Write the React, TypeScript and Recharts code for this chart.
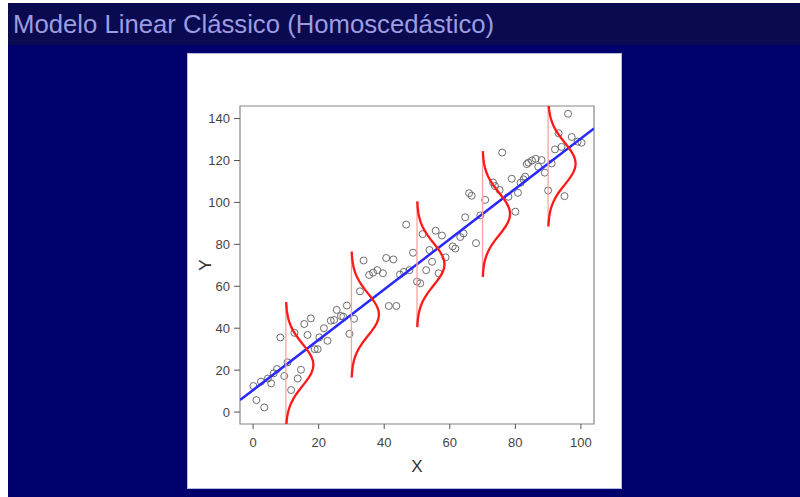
import {
  ComposedChart,
  ReferenceArea,
  Scatter,
  XAxis,
  YAxis,
} from "recharts";

const titleText = "Modelo Linear Clássico (Homoscedástico)";

// observed points
const obsX = [
  0.1, 1.0, 2.4, 3.4, 4.5, 5.5, 6.3, 7.3, 8.3, 9.5, 10.5, 11.6, 12.6, 13.6, 14.6, 15.6, 16.6, 17.6, 18.8, 19.7,
  20.2, 21.6, 22.7, 23.7, 24.7, 25.5, 26.8, 27.5, 28.6, 29.4, 30.8, 32.6, 33.7, 35.4, 36.6, 37.9, 39.6, 40.6, 41.4, 42.8,
  43.7, 44.8, 46.0, 46.7, 47.7, 48.8, 50.0, 51.0, 51.7, 52.8, 53.8, 54.6, 55.7, 56.6, 57.6, 58.7, 60.9, 61.7, 63.2, 64.2,
  64.7, 65.9, 66.7, 68.0, 69.3, 70.8, 73.2, 73.8, 75.2, 76.0, 77.9, 78.9, 80.0, 80.8, 81.6, 82.5, 83.0, 83.5, 84.0, 85.1,
  86.2, 87.0, 88.0, 89.0, 90.0, 91.1, 92.1, 93.2, 94.1, 95.0, 96.1, 97.2, 99.0, 100.2,
];
const obsY = [
  12.4, 5.7, 14.5, 2.2, 16, 13.7, 18.5, 20.5, 35.6, 17.2, 23.7, 10.5, 37.8, 16, 20.2, 42, 36.8, 44.7, 30, 30,
  35.6, 40, 34, 43.6, 43.9, 48.7, 45.8, 45.5, 50.8, 37.3, 44.5, 57.6, 72.3, 65.4, 66.5, 67.7, 66.2, 73.5, 50.6, 72.8,
  50.6, 65.6, 66.9, 89.4, 67.7, 76, 62.2, 61.4, 84.9, 67.7, 77.3, 71.7, 86.5, 66.2, 84.2, 73.8, 79, 78, 83.5, 85.2,
  92.9, 104.4, 103.2, 80.6, 93.8, 101.2, 109.5, 107.8, 105.9, 123.8, 102.7, 111.3, 95.6, 104.6, 109.4, 111, 112.3, 118.3, 119, 120,
  120.8, 117, 120.2, 114.2, 105.7, 118.6, 125.3, 133, 126.5, 103, 142.3, 131.2, 129, 128.5,
];

// fitted line, read at the plot edges
const lineX = [-4, 104];
const lineY = [5.7, 135.3];

// normal curves drawn at these x positions
const curveX = [10, 30, 50, 70, 90];
const curveMean = [22.5, 46.5, 70.5, 94.5, 118.5];
const curveSd = 10;
const curveWidth = 8.4;
const bellZ = [
  -3, -2.8, -2.6, -2.4, -2.2, -2, -1.8, -1.6, -1.4, -1.2, -1, -0.8, -0.6, -0.4, -0.2, 0,
  0.2, 0.4, 0.6, 0.8, 1, 1.2, 1.4, 1.6, 1.8, 2, 2.2, 2.4, 2.6, 2.8, 3,
];
const bellH = [
  0.0111, 0.0198, 0.034, 0.0561, 0.0889, 0.1353, 0.1979, 0.278, 0.3753, 0.4868, 0.6065, 0.7261, 0.8353, 0.9231, 0.9802, 1,
  0.9802, 0.9231, 0.8353, 0.7261, 0.6065, 0.4868, 0.3753, 0.278, 0.1979, 0.1353, 0.0889, 0.0561, 0.034, 0.0198, 0.0111,
];

const xTicks = [0, 20, 40, 60, 80, 100];
const yTicks = [0, 20, 40, 60, 80, 100, 120, 140];
const xDomain = [-4, 104];
const yDomain = [-5.7, 146];

const points = obsX.map((x, i) => ({ x, y: obsY[i] }));
const fitLine = lineX.map((x, i) => ({ x, y: lineY[i] }));
const curves = curveX.map((x0, i) =>
  bellZ.map((z, j) => ({ x: x0 + curveWidth * bellH[j], y: curveMean[i] + z * curveSd }))
);
const stems = curveX.map((x0, i) => [
  { x: x0, y: curveMean[i] - 3 * curveSd },
  { x: x0, y: curveMean[i] + 3 * curveSd },
]);

const tickFont = { fontFamily: "Liberation Sans, Arial, sans-serif", fontSize: 13, fill: "#444" };

const Circle = (props: any) => (
  <circle cx={props.cx} cy={props.cy} r={3.5} fill="none" stroke="#5e5e5e" strokeWidth={0.9} />
);
const NoDot = () => <g />;

export default function App() {
  return (
    <div
      style={{
        position: "absolute",
        left: 8,
        top: 3,
        width: 792,
        height: 494,
        background: "#00006c",
        overflow: "hidden",
      }}
    >
      <div style={{ position: "absolute", left: 0, top: 0, width: 792, height: 42, background: "#0a0a50" }} />
      <div
        style={{
          position: "absolute",
          left: 5,
          top: 7,
          color: "#9c9ce0",
          fontFamily: "Liberation Sans, Arial, sans-serif",
          fontSize: 25.7,
          whiteSpace: "nowrap",
        }}
      >
        {titleText}
      </div>
      <div
        style={{
          position: "absolute",
          left: 180,
          top: 51,
          width: 433,
          height: 434,
          background: "#fff",
          boxShadow: "0 0 0 1px #b8b8e0",
        }}
      >
        <ComposedChart width={433} height={434} margin={{ top: 52, right: 27, bottom: 14, left: 12 }}>
          <XAxis
            type="number"
            dataKey="x"
            domain={xDomain}
            allowDataOverflow
            ticks={xTicks}
            axisLine={false}
            tickLine={{ stroke: "#555" }}
            tickSize={5}
            tickMargin={9}
            height={50}
            tick={tickFont}
            label={{
              value: "X",
              position: "insideBottom",
              offset: 2,
              style: { fontFamily: "Liberation Sans, Arial, sans-serif", fontSize: 17, fill: "#333" },
            }}
          />
          <YAxis
            type="number"
            dataKey="y"
            domain={yDomain}
            allowDataOverflow
            ticks={yTicks}
            axisLine={false}
            tickLine={{ stroke: "#555" }}
            tickSize={6}
            tickMargin={4}
            width={40}
            tick={tickFont}
            label={{
              value: "Y",
              angle: -90,
              position: "insideLeft",
              offset: 5,
              style: { fontFamily: "Liberation Sans, Arial, sans-serif", fontSize: 17, fill: "#333", textAnchor: "middle" },
            }}
          />
          <ReferenceArea
            x1={xDomain[0]}
            x2={xDomain[1]}
            y1={yDomain[0]}
            y2={yDomain[1]}
            fill="none"
            stroke="#888"
            strokeWidth={1.2}
            ifOverflow="visible"
          />
          <Scatter data={points} shape={Circle} isAnimationActive={false} />
          <Scatter
            data={fitLine}
            shape={NoDot}
            line={{ stroke: "#2828ff", strokeWidth: 2.5 }}
            isAnimationActive={false}
          />
          {stems.map((s, i) => (
            <Scatter
              key={"s" + i}
              data={s}
              shape={NoDot}
              line={{ stroke: "#ffa0a0", strokeWidth: 1.3 }}
              isAnimationActive={false}
            />
          ))}
          {curves.map((c, i) => (
            <Scatter
              key={"c" + i}
              data={c}
              shape={NoDot}
              line={{ stroke: "#ff1a1a", strokeWidth: 2.3 }}
              isAnimationActive={false}
            />
          ))}
        </ComposedChart>
      </div>
    </div>
  );
}
